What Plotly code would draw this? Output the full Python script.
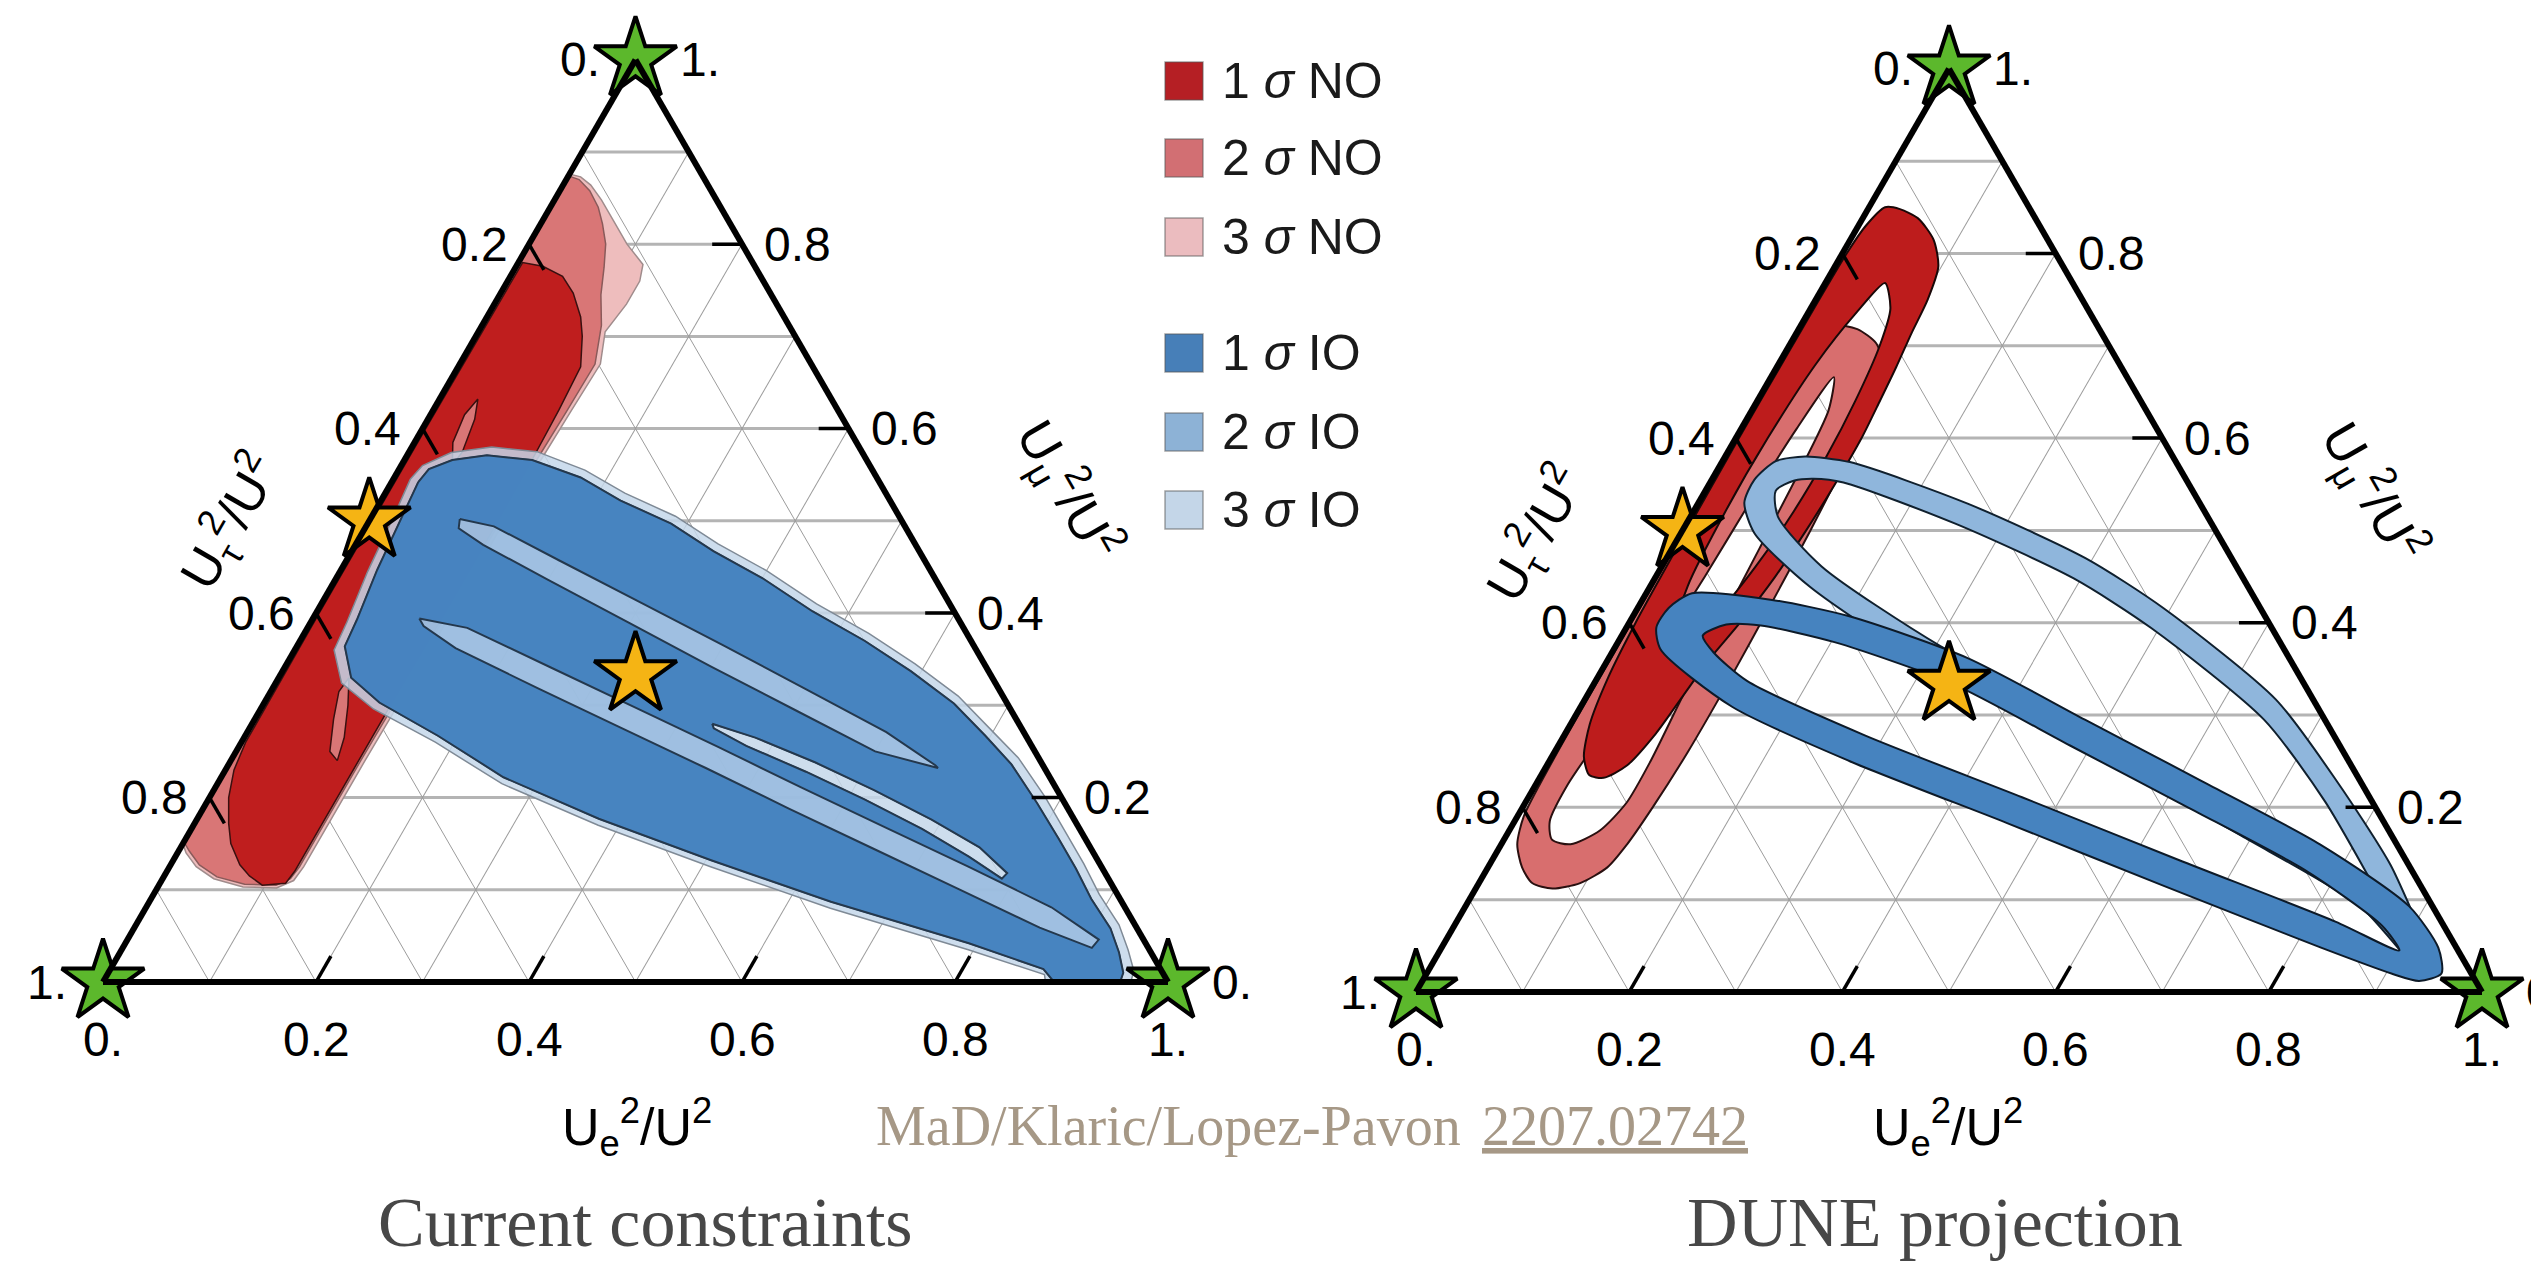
import math
import plotly.graph_objects as go

W_PX, H_PX = 2531, 1264

# Triangle boxes in page pixels: (left x, right x, bottom y)
BOX_CUR = (103, 1168, 982)
BOX_DUNE = (1416, 2482, 992)

# Axis values
GRID_VALUES = [0.1, 0.2, 0.3, 0.4, 0.5, 0.6, 0.7, 0.8, 0.9]
TICK_VALUES = [0.2, 0.4, 0.6, 0.8]
LABEL_VALUES = [0.0, 0.2, 0.4, 0.6, 0.8, 1.0]
LABEL_TEXT = ["0.", "0.2", "0.4", "0.6", "0.8", "1."]

# Contours as (U_mu^2/U^2, U_e^2/U^2) pairs; U_tau^2/U^2 = 1 - mu - e
# ---------- current constraints ----------
CUR_NO3 = [(0.876, 0.000), (0.873, 0.012), (0.864, 0.026), (0.848, 0.044), (0.826, 0.066),
           (0.800, 0.092), (0.778, 0.118), (0.760, 0.124), (0.735, 0.124), (0.705, 0.119),
           (0.670, 0.132), (0.620, 0.130), (0.560, 0.128), (0.480, 0.127), (0.400, 0.127),
           (0.320, 0.127), (0.240, 0.126), (0.170, 0.126), (0.125, 0.126), (0.110, 0.124),
           (0.102, 0.112), (0.103, 0.080), (0.112, 0.048), (0.125, 0.025), (0.140, 0.008),
           (0.150, 0.000)]
CUR_NO2 = [(0.874, 0.000), (0.870, 0.012), (0.858, 0.028), (0.840, 0.045), (0.822, 0.058),
           (0.800, 0.072), (0.775, 0.083), (0.745, 0.095), (0.712, 0.112), (0.670, 0.127),
           (0.620, 0.126), (0.560, 0.124), (0.480, 0.123), (0.400, 0.123), (0.320, 0.123),
           (0.240, 0.122), (0.170, 0.122), (0.125, 0.122), (0.112, 0.120), (0.105, 0.110),
           (0.106, 0.080), (0.114, 0.050), (0.127, 0.027), (0.142, 0.010), (0.152, 0.000)]
CUR_NO1 = [(0.780, 0.004), (0.776, 0.025), (0.765, 0.049), (0.747, 0.068), (0.721, 0.088),
           (0.700, 0.100), (0.667, 0.115), (0.620, 0.118), (0.560, 0.120), (0.480, 0.121),
           (0.400, 0.121), (0.320, 0.120), (0.240, 0.120), (0.170, 0.120), (0.120, 0.120),
           (0.107, 0.118), (0.105, 0.097), (0.115, 0.080), (0.127, 0.065), (0.150, 0.045),
           (0.172, 0.032), (0.200, 0.018), (0.230, 0.008), (0.260, 0.004), (0.400, 0.003),
           (0.600, 0.003)]
CUR_NO1_GAP_A = [(0.632, 0.036), (0.610, 0.044), (0.575, 0.050), (0.560, 0.048),
                 (0.585, 0.036), (0.615, 0.032)]
CUR_NO1_GAP_B = [(0.330, 0.066), (0.300, 0.080), (0.265, 0.094), (0.240, 0.100),
                 (0.250, 0.088), (0.285, 0.074), (0.315, 0.064)]

CUR_IO3 = [(0.560, 0.020), (0.574, 0.040), (0.580, 0.075), (0.575, 0.120), (0.555, 0.175),
           (0.530, 0.225), (0.505, 0.285), (0.475, 0.340), (0.446, 0.400), (0.410, 0.465),
           (0.378, 0.530), (0.345, 0.590), (0.310, 0.648), (0.275, 0.695), (0.243, 0.738),
           (0.200, 0.785), (0.160, 0.825), (0.128, 0.857), (0.095, 0.888), (0.062, 0.923),
           (0.035, 0.945), (0.012, 0.962), (0.000, 0.965), (0.000, 0.885), (0.008, 0.880),
           (0.035, 0.795), (0.080, 0.643), (0.125, 0.508), (0.170, 0.380), (0.215, 0.267),
           (0.260, 0.182), (0.296, 0.106), (0.324, 0.062), (0.360, 0.037), (0.390, 0.034),
           (0.445, 0.026), (0.510, 0.020), (0.545, 0.016)]
CUR_IO12 = [(0.556, 0.028), (0.566, 0.045), (0.571, 0.075), (0.566, 0.120), (0.547, 0.175),
            (0.522, 0.225), (0.497, 0.285), (0.467, 0.340), (0.438, 0.400), (0.402, 0.465),
            (0.370, 0.530), (0.337, 0.590), (0.302, 0.648), (0.267, 0.695), (0.236, 0.735),
            (0.194, 0.780), (0.155, 0.820), (0.123, 0.852), (0.090, 0.883), (0.058, 0.917),
            (0.032, 0.938), (0.010, 0.953), (0.000, 0.955), (0.000, 0.893), (0.014, 0.876),
            (0.042, 0.792), (0.087, 0.640), (0.132, 0.505), (0.177, 0.377), (0.222, 0.265),
            (0.267, 0.181), (0.303, 0.108), (0.330, 0.068), (0.364, 0.045), (0.393, 0.042),
            (0.447, 0.034), (0.510, 0.028), (0.542, 0.025)]
CUR_IO_STRIPE_A = [(0.502, 0.084), (0.494, 0.120), (0.457, 0.200), (0.411, 0.300), (0.365, 0.400),
                   (0.318, 0.500), (0.271, 0.600), (0.235, 0.664), (0.232, 0.668), (0.250, 0.600),
                   (0.296, 0.500), (0.342, 0.400), (0.389, 0.300), (0.436, 0.200), (0.474, 0.120),
                   (0.492, 0.088)]
CUR_IO_STRIPE_B = [(0.394, 0.100), (0.384, 0.150), (0.341, 0.250), (0.298, 0.350), (0.255, 0.450),
                   (0.211, 0.550), (0.168, 0.650), (0.125, 0.750), (0.081, 0.850), (0.046, 0.912),
                   (0.037, 0.910), (0.059, 0.850), (0.102, 0.750), (0.145, 0.650), (0.188, 0.550),
                   (0.232, 0.450), (0.275, 0.350), (0.318, 0.250), (0.362, 0.150), (0.386, 0.108)]
CUR_IO_SLIVER = [(0.280, 0.432), (0.265, 0.480), (0.238, 0.550), (0.208, 0.620), (0.176, 0.690),
                 (0.146, 0.750), (0.118, 0.790), (0.112, 0.788), (0.136, 0.745), (0.166, 0.686),
                 (0.198, 0.616), (0.228, 0.546), (0.256, 0.476), (0.275, 0.436)]

# ---------- DUNE projection ----------
DUNE_NO1_OUTER = [(0.850, 0.015), (0.848, 0.030), (0.838, 0.052), (0.815, 0.078), (0.786, 0.097),
                  (0.750, 0.105), (0.714, 0.108), (0.677, 0.112), (0.641, 0.115), (0.600, 0.118),
                  (0.550, 0.118), (0.500, 0.116), (0.450, 0.112), (0.400, 0.104), (0.360, 0.095),
                  (0.320, 0.090), (0.280, 0.085), (0.245, 0.075), (0.232, 0.060), (0.235, 0.045),
                  (0.255, 0.030), (0.290, 0.018), (0.340, 0.010), (0.400, 0.006), (0.500, 0.004),
                  (0.600, 0.003), (0.700, 0.003), (0.800, 0.004), (0.830, 0.007)]
DUNE_NO1_INNER = [(0.768, 0.056), (0.740, 0.075), (0.700, 0.085), (0.640, 0.092), (0.580, 0.095),
                  (0.520, 0.094), (0.460, 0.088), (0.410, 0.078), (0.380, 0.065), (0.390, 0.048),
                  (0.440, 0.035), (0.520, 0.030), (0.600, 0.030), (0.680, 0.035), (0.735, 0.045)]
DUNE_NO2_OUTER = [(0.722, 0.030), (0.718, 0.055), (0.703, 0.080), (0.680, 0.098), (0.640, 0.108),
                  (0.580, 0.115), (0.500, 0.120), (0.420, 0.123), (0.340, 0.125), (0.260, 0.125),
                  (0.200, 0.122), (0.160, 0.118), (0.135, 0.112), (0.118, 0.095), (0.112, 0.072),
                  (0.118, 0.050), (0.135, 0.032), (0.160, 0.015), (0.190, 0.006), (0.250, 0.003),
                  (0.350, 0.002), (0.450, 0.002), (0.550, 0.003), (0.650, 0.005), (0.700, 0.012)]
DUNE_NO2_INNER = [(0.666, 0.059), (0.630, 0.072), (0.560, 0.078), (0.480, 0.082), (0.400, 0.086),
                  (0.320, 0.090), (0.250, 0.095), (0.205, 0.095), (0.175, 0.085), (0.160, 0.065),
                  (0.165, 0.045), (0.185, 0.033), (0.225, 0.030), (0.290, 0.036), (0.370, 0.042),
                  (0.450, 0.046), (0.530, 0.048), (0.610, 0.052)]
DUNE_IO2_OUTER = [(0.530, 0.043), (0.555, 0.040), (0.575, 0.050), (0.580, 0.075), (0.574, 0.120),
                  (0.529, 0.253), (0.470, 0.393), (0.416, 0.493), (0.317, 0.648), (0.228, 0.750),
                  (0.138, 0.845), (0.060, 0.915), (0.035, 0.940), (0.022, 0.935), (0.034, 0.915),
                  (0.093, 0.839), (0.169, 0.690), (0.264, 0.496), (0.353, 0.304), (0.439, 0.150),
                  (0.497, 0.069)]
DUNE_IO2_INNER = [(0.543, 0.066), (0.554, 0.078), (0.556, 0.095), (0.552, 0.125), (0.507, 0.253),
                  (0.448, 0.393), (0.394, 0.493), (0.295, 0.648), (0.206, 0.750), (0.118, 0.838),
                  (0.062, 0.893), (0.115, 0.835), (0.191, 0.690), (0.286, 0.496), (0.375, 0.304),
                  (0.461, 0.150), (0.515, 0.082)]
DUNE_IO1_OUTER = [(0.416, 0.029), (0.432, 0.043), (0.425, 0.120), (0.407, 0.203), (0.362, 0.336),
                  (0.295, 0.480), (0.228, 0.624), (0.160, 0.768), (0.093, 0.885), (0.048, 0.935),
                  (0.020, 0.952), (0.012, 0.935), (0.020, 0.905), (0.048, 0.825), (0.115, 0.644),
                  (0.183, 0.463), (0.250, 0.282), (0.309, 0.142), (0.371, 0.044), (0.395, 0.028)]
DUNE_IO1_INNER = [(0.386, 0.076), (0.398, 0.092), (0.397, 0.125), (0.379, 0.203), (0.334, 0.336),
                  (0.267, 0.480), (0.200, 0.624), (0.132, 0.768), (0.072, 0.870), (0.045, 0.900),
                  (0.076, 0.825), (0.143, 0.644), (0.211, 0.463), (0.278, 0.282), (0.337, 0.142),
                  (0.368, 0.095)]

# Marked points (mu, e): flavour-pure vertices and benchmark points
VERTEX_POINTS = [(1.0, 0.0), (0.0, 0.0), (0.0, 1.0)]
BENCHMARK_POINTS = [(0.5, 0.0), (1 / 3, 1 / 3)]

# Legend entries
LEGEND_LABELS = ["1 <i>σ</i> NO", "2 <i>σ</i> NO", "3 <i>σ</i> NO",
                 "1 <i>σ</i> IO", "2 <i>σ</i> IO", "3 <i>σ</i> IO"]
LEGEND_COLORS = ["#b51f24", "#d26f73", "#ebbcbf", "#477fb8", "#8db2d6", "#c4d6e8"]

SANS = "Liberation Sans, Arial, sans-serif"
SERIF = "Liberation Serif, Times New Roman, serif"
TICK_FONT = dict(family=SANS, size=48, color="black")
TITLE_FONT = dict(family=SANS, size=52, color="black")


def signed_area(pts):
    s = 0.0
    for (m1, e1), (m2, e2) in zip(pts, pts[1:] + pts[:1]):
        x1, y1 = e1 + m1 / 2, m1
        x2, y2 = e2 + m2 / 2, m2
        s += x1 * y2 - x2 * y1
    return s


def oriented(pts, sign):
    return pts if signed_area(pts) * sign > 0 else pts[::-1]


def region_abc(outer, holes=()):
    loops = [oriented(list(outer), 1)] + [oriented(list(h), -1) for h in holes]
    a, b, c = [], [], []
    for lp in loops:
        for m, e in lp + [lp[0]]:
            a.append(m)
            b.append(1 - m - e)
            c.append(e)
        a.append(None)
        b.append(None)
        c.append(None)
    return a, b, c


def region_trace(subplot, outer, holes, fill, line_color, line_width, shape="linear"):
    a, b, c = region_abc(outer, holes)
    return go.Scatterternary(
        a=a, b=b, c=c, mode="lines", fill="toself", fillcolor=fill,
        line=dict(color=line_color, width=line_width, shape=shape, smoothing=0.7),
        subplot=subplot, hoverinfo="skip", showlegend=False,
    )


def tick_trace(subplot, length=0.028):
    a, b, c = [], [], []
    for t in TICK_VALUES:
        segs = [
            [(1 - t, 0.0), (1 - t - length, length)],   # left edge, U_tau axis
            [(t, 1 - t), (t, 1 - t - length)],           # right edge, U_mu axis
            [(0.0, t), (length, t)],                     # bottom edge, U_e axis
        ]
        for seg in segs:
            for m, e in seg:
                a.append(m)
                b.append(1 - m - e)
                c.append(e)
            a.append(None)
            b.append(None)
            c.append(None)
    return go.Scatterternary(a=a, b=b, c=c, mode="lines", line=dict(color="black", width=3.5),
                             subplot=subplot, hoverinfo="skip", showlegend=False, cliponaxis=False)


def star_trace(subplot, pts, color):
    return go.Scatterternary(
        a=[m for m, e in pts], b=[1 - m - e for m, e in pts], c=[e for m, e in pts],
        mode="markers",
        marker=dict(symbol="star", size=62, color=color, line=dict(color="black", width=4)),
        subplot=subplot, cliponaxis=False, hoverinfo="skip", showlegend=False,
    )


def domain(box):
    x0, x1, yb = box
    h = (x1 - x0) * math.sqrt(3) / 2
    return dict(x=[x0 / W_PX, x1 / W_PX], y=[1 - yb / H_PX, 1 - (yb - h) / H_PX])


def axis(gridcolor, gridwidth):
    return dict(title=dict(text=""), showticklabels=False, ticks="", tickmode="array",
                tickvals=GRID_VALUES, showgrid=True, gridcolor=gridcolor, gridwidth=gridwidth,
                showline=True, linecolor="black", linewidth=6, min=0)


def ternary_layout(box):
    return dict(sum=1, bgcolor="white", domain=domain(box),
                aaxis=axis("#b4b4b4", 2.5), baxis=axis("#9c9c9c", 1),
                caxis=axis("#9c9c9c", 1))


def to_page(box, mu, e):
    """Page pixel position of a ternary point inside a triangle box."""
    x0, x1, yb = box
    side = x1 - x0
    return x0 + (e + mu / 2) * side, yb - mu * side * math.sqrt(3) / 2


def px(x, y):
    return x / W_PX, 1 - y / H_PX


def text_ann(x, y, text, font, xanchor="center", yanchor="middle", angle=0):
    xp, yp = px(x, y)
    return dict(x=xp, y=yp, xref="paper", yref="paper", text=text, showarrow=False,
                xanchor=xanchor, yanchor=yanchor, textangle=angle, font=font)


def tick_label_anns(box):
    anns = []
    for t, lab in zip(LABEL_VALUES, LABEL_TEXT):
        end = t in (0.0, 1.0)
        # left edge: U_tau^2/U^2, zero at the top vertex
        x, y = to_page(box, 1 - t, 0.0)
        anns.append(text_ann(x - (34 if end else 19), y, lab, TICK_FONT, xanchor="right"))
        # right edge: U_mu^2/U^2, zero at the bottom-right vertex
        x, y = to_page(box, t, 1 - t)
        anns.append(text_ann(x + (42 if end else 20), y, lab, TICK_FONT, xanchor="left"))
        # bottom edge: U_e^2/U^2, zero at the bottom-left vertex
        x, y = to_page(box, 0.0, t)
        anns.append(text_ann(x, y + 57, lab, TICK_FONT))
    return anns


fig = go.Figure()

# Current constraints
sp = "ternary"
fig.add_trace(region_trace(sp, CUR_NO3, [], "#eebdbd", "#a08c8c", 1.5))
fig.add_trace(region_trace(sp, CUR_NO2, [], "#d97676", "#8a5a5a", 1.5))
fig.add_trace(region_trace(sp, CUR_NO1, [CUR_NO1_GAP_A, CUR_NO1_GAP_B], "#bf1e1e", "#3a1010", 1.5))
fig.add_trace(region_trace(sp, CUR_IO3, [], "rgba(196,215,234,0.85)", "#7f8a96", 1.5))
fig.add_trace(region_trace(sp, CUR_IO12, [CUR_IO_SLIVER], "rgba(150,186,222,0.85)", "#556070", 1.5))
fig.add_trace(region_trace(sp, CUR_IO12, [CUR_IO_STRIPE_A, CUR_IO_STRIPE_B, CUR_IO_SLIVER],
                           "rgba(68,129,190,0.96)", "#24384d", 2))
fig.add_trace(tick_trace(sp))
fig.add_trace(star_trace(sp, VERTEX_POINTS, "#5cb82c"))
fig.add_trace(star_trace(sp, BENCHMARK_POINTS, "#f5b414"))

# DUNE projection
sp = "ternary2"
fig.add_trace(region_trace(sp, DUNE_NO2_OUTER, [DUNE_NO2_INNER], "#d86e6e", "#2a1010", 2, "spline"))
fig.add_trace(region_trace(sp, DUNE_NO1_OUTER, [DUNE_NO1_INNER], "#bd1c1c", "#1a0808", 2, "spline"))
fig.add_trace(region_trace(sp, DUNE_IO2_OUTER, [DUNE_IO2_INNER], "#8fb6dc", "#10202e", 2, "spline"))
fig.add_trace(region_trace(sp, DUNE_IO1_OUTER, [DUNE_IO1_INNER], "#4683bf", "#0d1a28", 2, "spline"))
fig.add_trace(tick_trace(sp))
fig.add_trace(star_trace(sp, VERTEX_POINTS, "#5cb82c"))
fig.add_trace(star_trace(sp, BENCHMARK_POINTS, "#f5b414"))

annotations = tick_label_anns(BOX_CUR) + tick_label_anns(BOX_DUNE)
shapes = []

AX_TAU = "U<sub>τ</sub><sup>2</sup>/U<sup>2</sup>"
AX_MU = "U<sub>μ</sub><sup>2</sup>/U<sup>2</sup>"
AX_E = "U<sub>e</sub><sup>2</sup>/U<sup>2</sup>"
for (tx, ty, ang, txt) in [(230, 522, -60, AX_TAU), (1068, 490, 60, AX_MU), (637, 1127, 0, AX_E),
                           (1536, 534, -60, AX_TAU), (2373, 492, 60, AX_MU), (1948, 1127, 0, AX_E)]:
    annotations.append(text_ann(tx, ty, txt, TITLE_FONT, angle=ang))

# Legend block
LEG_ROWS_Y = [81, 158, 237, 353, 432, 510]
for lab, col, yy in zip(LEGEND_LABELS, LEGEND_COLORS, LEG_ROWS_Y):
    x0, y0 = px(1165, yy - 19)
    x1, y1 = px(1203, yy + 19)
    shapes.append(dict(type="rect", xref="paper", yref="paper", x0=x0, x1=x1, y0=y1, y1=y0,
                       fillcolor=col, line=dict(color="rgba(90,90,90,0.55)", width=1.5)))
    annotations.append(text_ann(1220, yy, lab, dict(family=SANS, size=50, color="#1a1a1a"),
                                xanchor="left"))

# Attribution
annotations.append(text_ann(1463, 1126, "MaD/Klaric/Lopez-Pavon",
                            dict(family=SERIF, size=56, color="#a69886"), xanchor="right"))
annotations.append(text_ann(1480, 1126, "2207.02742",
                            dict(family=SERIF, size=56, color="#a69886", lineposition="under"),
                            xanchor="left"))

# Panel captions
for tx, txt in [(645, "Current constraints"), (1935, "DUNE projection")]:
    annotations.append(text_ann(tx, 1222, txt, dict(family=SERIF, size=70, color="#474747")))

fig.update_layout(
    width=W_PX, height=H_PX, autosize=False,
    margin=dict(l=0, r=0, t=0, b=0, pad=0),
    paper_bgcolor="white",
    ternary=ternary_layout(BOX_CUR),
    ternary2=ternary_layout(BOX_DUNE),
    annotations=annotations,
    shapes=shapes,
    showlegend=False,
)

fig.write_html("out.html")
